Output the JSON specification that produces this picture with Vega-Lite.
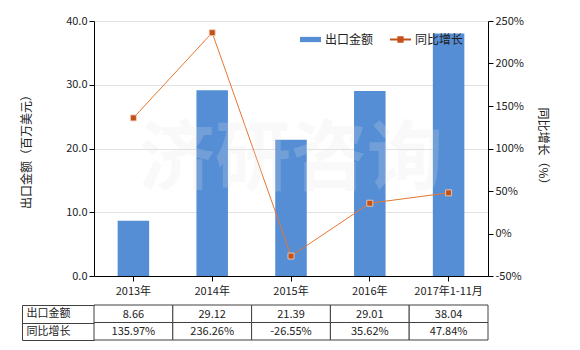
{
  "$schema": "https://vega.github.io/schema/vega-lite/v6.json",
  "background": "white",
  "padding": {"left": 20, "top": 15, "right": 5, "bottom": 2},
  "datasets": {
    "main": [
      {"year": "2013年", "amount": 8.66, "growth": 135.97},
      {"year": "2014年", "amount": 29.12, "growth": 236.26},
      {"year": "2015年", "amount": 21.39, "growth": -26.55},
      {"year": "2016年", "amount": 29.01, "growth": 35.62},
      {"year": "2017年1-11月", "amount": 38.04, "growth": 47.84}
    ],
    "table": [
      {"row": "出口金额", "year": "2013年", "text": "8.66"},
      {"row": "出口金额", "year": "2014年", "text": "29.12"},
      {"row": "出口金额", "year": "2015年", "text": "21.39"},
      {"row": "出口金额", "year": "2016年", "text": "29.01"},
      {"row": "出口金额", "year": "2017年1-11月", "text": "38.04"},
      {"row": "同比增长", "year": "2013年", "text": "135.97%"},
      {"row": "同比增长", "year": "2014年", "text": "236.26%"},
      {"row": "同比增长", "year": "2015年", "text": "-26.55%"},
      {"row": "同比增长", "year": "2016年", "text": "35.62%"},
      {"row": "同比增长", "year": "2017年1-11月", "text": "47.84%"}
    ],
    "wm": [{"w": "济研咨询"}]
  },
  "config": {
    "view": {"stroke": null},
    "font": "Noto Sans CJK SC",
    "axis": {
      "labelFont": "Noto Sans CJK SC",
      "titleFont": "Noto Sans CJK SC",
      "labelFontSize": 11,
      "titleFontSize": 12,
      "titleFontWeight": "normal",
      "labelColor": "#222222",
      "titleColor": "#222222",
      "domainColor": "#000000",
      "tickColor": "#000000",
      "tickSize": 5
    },
    "legend": {"labelFont": "Noto Sans CJK SC", "labelFontSize": 12, "labelColor": "#222222"}
  },
  "vconcat": [
    {
      "width": 394,
      "height": 255,
      "layer": [
        {
          "data": {"name": "main"},
          "mark": {"type": "bar", "width": {"band": 0.4}},
          "encoding": {
            "x": {"field": "year", "type": "nominal", "sort": null,
              "scale": {"paddingInner": 0, "paddingOuter": 0},
              "axis": {"title": null, "labelAngle": 0, "labelPadding": 4}},
            "y": {"field": "amount", "type": "quantitative",
              "scale": {"domain": [0, 40]},
              "axis": {"values": [0, 10, 20, 30, 40], "format": ".1f", "grid": true, "gridColor": "#e2e2e2",
                "title": "出口金额（百万美元）", "titlePadding": 32}},
            "fill": {"datum": "出口金额", "type": "nominal",
              "scale": {"range": ["#558ED5"]},
              "legend": {"title": null, "orient": "none", "legendX": 206, "legendY": 8,
                "symbolType": "M-1,-0.25H1V0.25H-1Z", "symbolSize": 441, "symbolStrokeWidth": 0}}
          }
        },
        {
          "data": {"name": "main"},
          "encoding": {
            "x": {"field": "year", "type": "nominal", "sort": null},
            "y": {"field": "growth", "type": "quantitative",
              "scale": {"domain": [-50, 250]},
              "axis": {"orient": "right", "values": [-50, 0, 50, 100, 150, 200, 250],
                "labelExpr": "datum.value + '%'", "grid": false,
                "title": "同比增长（%）", "titlePadding": 12}}
          },
          "layer": [
            {
              "mark": {"type": "line", "strokeWidth": 1},
              "encoding": {
                "stroke": {"datum": "同比增长", "type": "nominal",
                  "scale": {"range": ["#E8762D"]},
                  "legend": {"title": null, "orient": "none", "legendX": 296, "legendY": 8,
                    "symbolType": "M-1,-0.1H-0.3V-0.3H0.3V-0.1H1V0.1H0.3V0.3H-0.3V0.1H-1Z",
                    "symbolFillColor": "#C5511A", "symbolStrokeWidth": 0, "symbolSize": 441}}
              }
            },
            {
              "mark": {"type": "point", "shape": "square", "filled": true, "size": 36,
                "color": "#C5511A", "stroke": "#f5d6c0", "strokeWidth": 0.8, "opacity": 1}
            }
          ]
        },
        {
          "data": {"name": "wm"},
          "mark": {"type": "text", "fontSize": 76, "fontWeight": "bold", "color": "#e6e6e6", "opacity": 0.2, "dy": 12},
          "encoding": {"text": {"field": "w"}}
        }
      ],
      "resolve": {"scale": {"y": "independent", "fill": "independent", "stroke": "independent"}}
    },
    {
      "width": 394,
      "height": 35,
      "data": {"name": "table"},
      "layer": [
        {
          "mark": {"type": "rect", "fill": "white", "stroke": "#404040", "strokeWidth": 1},
          "encoding": {
            "x": {"field": "year", "type": "nominal", "sort": null,
              "scale": {"paddingInner": 0, "paddingOuter": 0}, "axis": null},
            "y": {"field": "row", "type": "nominal", "sort": ["出口金额", "同比增长"],
              "scale": {"paddingInner": 0, "paddingOuter": 0},
              "axis": {"title": null, "orient": "left", "tickBand": "extent", "tickSize": 72,
                "tickColor": "#404040", "domain": false, "labelAlign": "left", "labelPadding": -4,
                "labelFontSize": 11}}
          }
        },
        {
          "mark": {"type": "text", "fontSize": 11, "color": "#222222", "dy": 1},
          "encoding": {
            "x": {"field": "year", "type": "nominal", "sort": null},
            "y": {"field": "row", "type": "nominal", "sort": ["出口金额", "同比增长"],
              "axis": {"title": null, "orient": "left", "offset": 72, "labels": false, "ticks": false,
                "domain": true, "domainColor": "#404040"}},
            "text": {"field": "text"}
          }
        }
      ],
      "resolve": {"axis": {"y": "independent"}}
    }
  ],
  "spacing": 3
}
